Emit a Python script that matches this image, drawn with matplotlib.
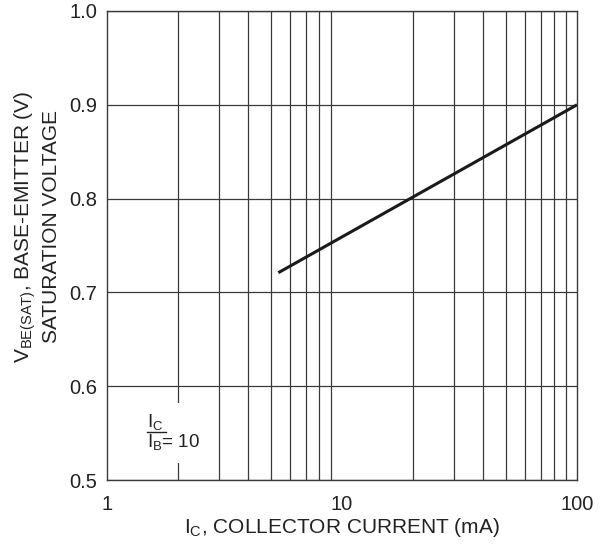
import matplotlib
matplotlib.use("Agg")
import matplotlib.pyplot as plt
import numpy as np
from matplotlib.patches import Rectangle
from matplotlib.lines import Line2D

plt.rcParams['font.family'] = ['Liberation Sans', 'DejaVu Sans']
plt.rcParams['mathtext.fontset'] = 'custom'
plt.rcParams['mathtext.rm'] = 'Liberation Sans'
plt.rcParams['mathtext.it'] = 'Liberation Sans'

# Data
ic_ma = [5.36, 100]
vbe_sat = [0.721, 0.90]
y_ticks = [0.5, 0.6, 0.7, 0.8, 0.9, 1.0]
y_tick_labels = ["0.5", "0.6", "0.7", "0.8", "0.9", "1.0"]
x_ticks = [1, 10, 100]
x_tick_labels = ["1", "10", "100"]

fig = plt.figure(figsize=(6.13, 5.44), dpi=100)
ax = fig.add_axes([107/613, 1-480/544, 470/613, 469/544])

ax.set_xscale('log')
ax.set_xlim(1, 100)
ax.set_ylim(0.5, 1.0)

gc = '#3a3a3a'
# grid lines
for d in [1, 10]:
    for m in range(2, 10):
        ax.axvline(d*m, color=gc, lw=0.9, zorder=1)
for y in y_ticks:
    ax.axhline(y, color=gc, lw=0.9, zorder=1)

for s in ax.spines.values():
    s.set_color(gc)
    s.set_linewidth(1.0)

ax.set_xticks(x_ticks)
ax.set_xticklabels(x_tick_labels)
ax.set_xticks([], minor=True)
ax.set_yticks(y_ticks)
ax.set_yticklabels(y_tick_labels)
ax.tick_params(axis='both', length=0, labelsize=14.5, colors='#222222')
ax.tick_params(axis='x', pad=11)
ax.tick_params(axis='y', pad=7)

ax.plot(ic_ma, vbe_sat, color='#1a1a1a', lw=2.2, zorder=3, solid_capstyle='butt')

# annotation box (white gap in grid)
ax.add_patch(Rectangle(((132-107)/470, (480-463)/469), (205-132)/470, 60/469,
                       transform=ax.transAxes, facecolor='white', edgecolor='none', zorder=2))
ax.text((147-107)/470, (480-422)/469, r'I$_\mathregular{C}$', transform=ax.transAxes,
        fontsize=13.5, ha='left', va='center', zorder=4, color='#222222')
ax.add_line(Line2D([(147-107)/470, (166-107)/470], [(480-432)/469]*2, transform=ax.transAxes,
                   color='#222222', lw=1.0, zorder=4))
ax.text((147-107)/470, (480-442)/469, r'I$_\mathregular{B}$= 10', transform=ax.transAxes,
        fontsize=13.5, ha='left', va='center', zorder=4, color='#222222')

ax.set_xlabel(r'I$_\mathregular{C}$, COLLECTOR CURRENT (mA)', fontsize=15, color='#222222', labelpad=1)
ax.set_ylabel('V$_\\mathregular{BE(SAT)}$, BASE-EMITTER (V)\nSATURATION VOLTAGE', fontsize=15,
              color='#222222', linespacing=1.25)
ax.yaxis.set_label_coords((61-107)/470, (480-227)/469)

fig.savefig('out.png', dpi=100)
